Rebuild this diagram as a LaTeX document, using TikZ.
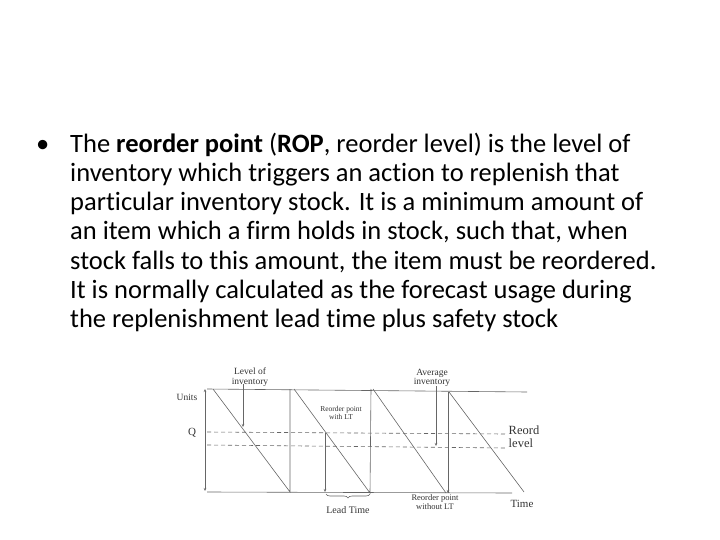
\documentclass[tikz,border=0pt]{standalone}
\usepackage{fontspec}
\setmainfont{Carlito}[Ligatures=NoCommon]
\newfontfamily\serif{Liberation Serif}
\usetikzlibrary{decorations.pathreplacing,arrows.meta}
\begin{document}
\begin{tikzpicture}[x=1pt,y=-1pt,
  ln/.style={anchor=base west,inner sep=0pt,font=\fontsize{26.5}{30}\selectfont},
  lab/.style={font=\serif\fontsize{9.5}{9.5}\selectfont,align=center,inner sep=0pt,text=black!80},
  grl/.style={draw=black!60,line width=0.6pt},
  dsh/.style={draw=black!60,line width=0.6pt,dash pattern=on 4pt off 3pt},
  arr/.style={draw=black!60,line width=0.6pt,-{Stealth[length=3pt,width=2.5pt]}}]
\useasboundingbox (0,0) rectangle (720,540);
\node[ln] (b) at (36,153) {•};
\node[ln] (l1) at (70,153) {The \textbf{reorder point} (\textbf{ROP}, reorder level) is the level of};
\node[ln] (l2) at (70,182) {inventory which triggers an action to replenish that};
\node[ln] (l3) at (70,211) {particular inventory stock. It is a minimum amount of};
\node[ln] (l4) at (70,240) {an item which a firm holds in stock, such that, when};
\node[ln] (l5) at (70,269) {stock falls to this amount, the item must be reordered.};
\node[ln] (l6) at (70,298) {It is normally calculated as the forecast usage during};
\node[ln] (l7) at (70,327) {the replenishment lead time plus safety stock};
% axes
\coordinate (tl) at (207,389); \coordinate (tr) at (527,392);
\coordinate (bl) at (207,492); \coordinate (br) at (512,493);
\draw[grl] (tl) -- (tr);
\draw[grl] (bl) -- (br);
\draw[grl,{Stealth[length=3pt,width=2.5pt]}-{Stealth[length=3pt,width=2.5pt]}] (205,389) -- (205,491);
% sawtooth
\draw[grl] (213,389) -- (290,492) -- (290,389);
\draw[grl] (294,389) -- (370,493) -- (371,389);
\draw[grl] (373,389) -- (446,493);
\draw[grl] (449,392) -- (524,492);
\draw[grl] (448,392) -- (448,493);
% dashed
\draw[dsh] (207,432) -- (505,434);
\draw[dsh] (207,445) -- (505,448);
% labels
\node[lab] (units) at (187,397) {Units};
\node[lab,font=\serif\fontsize{11}{11}\selectfont] (q) at (192,433) {Q};
\node[lab] (loi) at (250,377) {Level of\\inventory};
\draw[arr] (243,384) -- (243,427);
\node[lab,font=\serif\fontsize{7.5}{7.5}\selectfont] (rlt) at (341,413) {Reorder point\\with LT};
\draw[arr] (325,433) -- (325,492);
\node[lab] (avg) at (432,378) {Average\\inventory};
\draw[arr] (436,386) -- (436,446);
\node[lab,font=\serif\fontsize{12.5}{13}\selectfont,align=left] (rl) at (524,437) {Reord\\level};
\node[lab,font=\serif\fontsize{8.5}{8.5}\selectfont] (rwo) at (435,502) {Reorder point\\without LT};
\draw[arr] (448,440) -- (448,493);
\draw[grl,decorate,decoration={brace,mirror,amplitude=4pt}] (326,494) -- (370,494);
\node[lab,font=\serif\fontsize{10}{10}\selectfont] (lt) at (348,510) {Lead Time};
\node[lab,font=\serif\fontsize{11}{11}\selectfont] (time) at (522,504) {Time};
\end{tikzpicture}
\end{document}
